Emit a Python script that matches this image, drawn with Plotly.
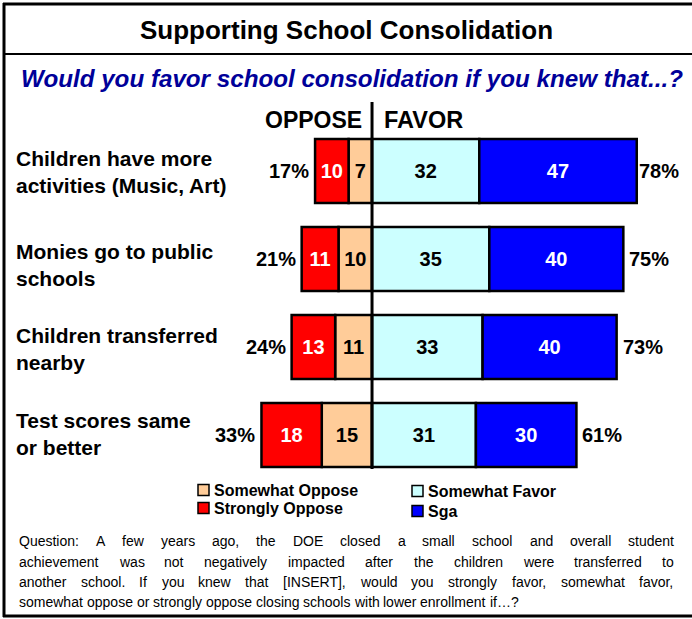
import plotly.graph_objects as go

# ---------------- data ----------------
categories = ["Children have more<br>activities (Music, Art)",
              "Monies go to public<br>schools",
              "Children transferred<br>nearby",
              "Test scores same<br>or better"]
strongly_oppose = [10, 11, 13, 18]
somewhat_oppose = [7, 10, 11, 15]
somewhat_favor = [32, 35, 33, 31]
sga = [47, 40, 40, 30]
oppose_total = [17, 21, 24, 33]
favor_total = [78, 75, 73, 61]

title_text = "Supporting School Consolidation"
subtitle_text = "Would you favor school consolidation if you knew that...?"
question_lines = [
    "Question: A few years ago, the DOE closed a small school and overall student",
    "achievement was not negatively impacted after the children were transferred to",
    "another school. If you knew that [INSERT], would you strongly favor, somewhat favor,",
    "somewhat oppose or strongly oppose closing schools with lower enrollment if\u2026?",
]

# ---------------- style ----------------
W, H = 692, 619
FONT = "Liberation Sans, Arial, sans-serif"
C_SO = "#FF0000"
C_sO = "#FFCC99"
C_sF = "#CCFFFF"
C_SGA = "#0000FF"


def px(x):
    return x / W


def py(y):
    return 1 - y / H


rows = list(range(len(categories)))

fig = go.Figure()


def add_bar(vals, sign, name, color, tcolor):
    fig.add_trace(go.Bar(
        y=rows, x=[sign * v for v in vals], orientation="h", name=name,
        marker=dict(color=color, line=dict(color="black", width=2.5)),
        width=0.73,
        text=[str(v) for v in vals], textposition="inside",
        insidetextanchor="middle", textangle=0, constraintext="none",
        textfont=dict(color=tcolor, size=20, family=FONT, weight="bold"),
        hoverinfo="skip",
    ))


add_bar(somewhat_oppose, -1, "Somewhat Oppose", C_sO, "black")
add_bar(strongly_oppose, -1, "Strongly Oppose", C_SO, "white")
add_bar(somewhat_favor, 1, "Somewhat Favor", C_sF, "black")
add_bar(sga, 1, "Sga", C_SGA, "white")

ann = []
shapes = []

# totals
for i in rows:
    ann.append(dict(x=-oppose_total[i], y=i, xref="x", yref="y", text=f"{oppose_total[i]}%",
                    xanchor="right", yanchor="middle", xshift=-4, showarrow=False,
                    font=dict(size=20, family=FONT, color="black", weight="bold")))
    ann.append(dict(x=favor_total[i], y=i, xref="x", yref="y", text=f"{favor_total[i]}%",
                    xanchor="left", yanchor="middle", xshift=4, showarrow=False,
                    font=dict(size=20, family=FONT, color="black", weight="bold")))

# category labels
label_shift = [-1, -6, -2, 1]
for i in rows:
    ann.append(dict(x=px(14), y=i, xref="paper", yref="y", text=categories[i],
                    xanchor="left", yanchor="middle", align="left", yshift=label_shift[i],
                    showarrow=False,
                    font=dict(size=21, family=FONT, color="black", weight="bold")))

# title + subtitle
ann.append(dict(x=px(346), y=py(30), xref="paper", yref="paper", text=title_text, showarrow=False,
                xanchor="center", yanchor="middle",
                font=dict(size=26, family=FONT, color="black", weight="bold")))
ann.append(dict(x=px(352), y=py(79), xref="paper", yref="paper", text=subtitle_text, showarrow=False,
                xanchor="center", yanchor="middle",
                font=dict(size=24.2, family=FONT, color="#000099", weight="bold", style="italic")))

# OPPOSE / FAVOR headers
ann.append(dict(x=0, y=py(120), xref="x", yref="paper", text="OPPOSE", showarrow=False,
                xanchor="right", yanchor="middle", xshift=-8,
                font=dict(size=23, family=FONT, color="black", weight="bold")))
ann.append(dict(x=0, y=py(120), xref="x", yref="paper", text="FAVOR", showarrow=False,
                xanchor="left", yanchor="middle", xshift=10,
                font=dict(size=23.5, family=FONT, color="black", weight="bold")))

# center line
shapes.append(dict(type="line", xref="x", yref="paper", x0=0, x1=0, y0=py(102), y1=py(469),
                   line=dict(color="black", width=3), layer="above"))

# frame
shapes.append(dict(type="line", xref="paper", yref="paper", x0=px(4), x1=px(4), y0=py(3), y1=py(617),
                   line=dict(color="black", width=3)))
shapes.append(dict(type="line", xref="paper", yref="paper", x0=px(3), x1=1.01, y0=py(4), y1=py(4),
                   line=dict(color="black", width=3)))
shapes.append(dict(type="line", xref="paper", yref="paper", x0=px(3), x1=1.01, y0=py(616), y1=py(616),
                   line=dict(color="black", width=3)))
shapes.append(dict(type="line", xref="paper", yref="paper", x0=px(4), x1=1.01, y0=py(54), y1=py(54),
                   line=dict(color="black", width=2)))

# legend (manual, 2 columns)
legend_items = [("Somewhat Oppose", C_sO, 198, 490),
                ("Strongly Oppose", C_SO, 198, 508),
                ("Somewhat Favor", C_sF, 412, 491),
                ("Sga", C_SGA, 412, 511)]
for name, color, lx, ly in legend_items:
    shapes.append(dict(type="rect", xref="paper", yref="paper", x0=px(lx), x1=px(lx + 11),
                       y0=py(ly - 5.5), y1=py(ly + 5.5), fillcolor=color,
                       line=dict(color="black", width=1.5)))
    ann.append(dict(x=px(lx + 14), y=py(ly), xref="paper", yref="paper", text=name, showarrow=False,
                    xanchor="left", yanchor="middle",
                    font=dict(size=16, family=FONT, color="black", weight="bold")))

# question text, justified (Arial / Liberation Sans metrics)
AW = {' ': 278, ',': 278, '.': 278, ':': 278, '[': 278, ']': 278, '?': 556, '\u2026': 1000,
      'a': 556, 'b': 556, 'c': 500, 'd': 556, 'e': 556, 'f': 278, 'g': 556, 'h': 556, 'i': 222,
      'j': 222, 'k': 500, 'l': 222, 'm': 833, 'n': 556, 'o': 556, 'p': 556, 'q': 556, 'r': 333,
      's': 500, 't': 278, 'u': 556, 'v': 500, 'w': 722, 'x': 500, 'y': 500, 'z': 500,
      'A': 667, 'D': 722, 'E': 667, 'I': 278, 'N': 722, 'O': 778, 'Q': 778, 'R': 722, 'S': 667,
      'T': 611}
QS = 14
QL, QR = 18, 673
q_y = [541, 562, 582, 602]


def tw(s):
    return sum(AW.get(c, 556) for c in s) / 1000 * QS


for li, line in enumerate(question_lines):
    words = line.split(" ")
    if li < len(question_lines) - 1:
        gap = (QR - QL - sum(tw(w) for w in words)) / (len(words) - 1)
    else:
        gap = tw(" ")
    x = QL
    for w in words:
        ann.append(dict(x=px(x), y=py(q_y[li]), xref="paper", yref="paper", text=w, showarrow=False,
                        xanchor="left", yanchor="middle", borderpad=0,
                        font=dict(size=QS, family=FONT, color="black")))
        x += tw(w) + gap

fig.update_layout(
    width=W, height=H, margin=dict(l=0, r=0, t=0, b=0),
    paper_bgcolor="white", plot_bgcolor="white",
    barmode="relative", showlegend=False,
    xaxis=dict(range=[-40, 94], domain=[238 / W, 687 / W], visible=False, fixedrange=True),
    yaxis=dict(range=[3.5, -0.5], domain=[py(479), py(127)], visible=False, fixedrange=True),
    annotations=ann, shapes=shapes,
)

fig.write_html("out.html", config={"displayModeBar": False},
               post_script="document.body.style.margin='0';document.body.style.overflow='hidden';")
